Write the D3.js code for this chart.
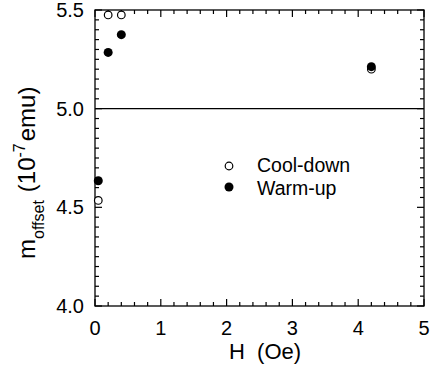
<!DOCTYPE html>
<html><head><meta charset="utf-8">
<script src="https://cdn.jsdelivr.net/npm/d3@7"></script>
<style>body{margin:0;background:#fff}text{font-family:"Liberation Sans",Arial,sans-serif;fill:#000}</style>
</head><body><svg id="c" width="430" height="370"></svg>
<script>
const coolH = [0.05, 0.2, 0.4, 4.2];
const coolM = [4.535, 5.475, 5.475, 5.20];
const warmH = [0.05, 0.2, 0.4, 4.2];
const warmM = [4.635, 5.285, 5.375, 5.213];
const xTicks = [0, 1, 2, 3, 4, 5];
const yTicks = [4.0, 4.5, 5.0, 5.5];
const refLine = 5.0;

const svg = d3.select("#c");
const L = 95, R = 424, T = 10, B = 306;
const x = d3.scaleLinear().domain([0, 5]).range([L, R]);
const y = d3.scaleLinear().domain([4.0, 5.5]).range([B, T]);

const g = svg.append("g");
g.append("rect").attr("x", L).attr("y", T).attr("width", R - L).attr("height", B - T)
  .attr("fill", "none").attr("stroke", "#000").attr("stroke-width", 1.3);

const xMinor = d3.range(0, 5.001, 0.2);
const yMinor = d3.range(4.0, 5.5001, 0.05);
xMinor.forEach(v => {
  const major = Math.abs(v - Math.round(v)) < 1e-6;
  const len = major ? 7 : 4;
  g.append("line").attr("x1", x(v)).attr("x2", x(v)).attr("y1", B).attr("y2", B - len).attr("stroke", "#000").attr("stroke-width", 1.2);
  g.append("line").attr("x1", x(v)).attr("x2", x(v)).attr("y1", T).attr("y2", T + len).attr("stroke", "#000").attr("stroke-width", 1.2);
});
yMinor.forEach(v => {
  const major = Math.abs(v * 2 - Math.round(v * 2)) < 1e-6;
  const len = major ? 7 : 4;
  g.append("line").attr("y1", y(v)).attr("y2", y(v)).attr("x1", L).attr("x2", L + len).attr("stroke", "#000").attr("stroke-width", 1.2);
  g.append("line").attr("y1", y(v)).attr("y2", y(v)).attr("x1", R).attr("x2", R - len).attr("stroke", "#000").attr("stroke-width", 1.2);
});

g.selectAll(".xl").data(xTicks).enter().append("text")
  .attr("x", d => x(d)).attr("y", 335).attr("text-anchor", "middle")
  .attr("font-size", 20).text(d => d);
g.selectAll(".yl").data(yTicks).enter().append("text")
  .attr("x", L - 11).attr("y", d => y(d) + 7).attr("text-anchor", "end")
  .attr("font-size", 20).text(d => d.toFixed(1));

g.append("line").attr("x1", L).attr("x2", R).attr("y1", y(refLine)).attr("y2", y(refLine))
  .attr("stroke", "#000").attr("stroke-width", 1.2);

g.selectAll(".cool").data(coolH.map((h, i) => [h, coolM[i]])).enter().append("circle")
  .attr("cx", d => x(d[0])).attr("cy", d => y(d[1])).attr("r", 3.8)
  .attr("fill", "#fff").attr("stroke", "#000").attr("stroke-width", 1.2);
g.selectAll(".warm").data(warmH.map((h, i) => [h, warmM[i]])).enter().append("circle")
  .attr("cx", d => x(d[0])).attr("cy", d => y(d[1])).attr("r", 4.5)
  .attr("fill", "#000");

g.append("circle").attr("cx", 229).attr("cy", 166).attr("r", 3.8).attr("fill", "#fff").attr("stroke", "#000").attr("stroke-width", 1.2);
g.append("circle").attr("cx", 229).attr("cy", 187).attr("r", 4.5).attr("fill", "#000");
g.append("text").attr("x", 257).attr("y", 172).attr("font-size", 19.5).text("Cool-down");
g.append("text").attr("x", 257).attr("y", 195).attr("font-size", 19.5).text("Warm-up");

g.append("text").attr("x", 265).attr("y", 359).attr("text-anchor", "middle").attr("font-size", 22)
  .attr("xml:space", "preserve").text("H  (Oe)");
const yt = g.append("text").attr("transform", "translate(35,259) rotate(-90)").attr("text-anchor", "start").attr("font-size", 24);
yt.append("tspan").text("m");
yt.append("tspan").attr("font-size", 16).attr("dy", 9).text("offset");
yt.append("tspan").attr("dy", -9).attr("dx", 8).text("(10");
yt.append("tspan").attr("font-size", 16).attr("dy", -10).text("-7");
yt.append("tspan").attr("dy", 10).attr("dx", 2).text("emu)");
</script></body></html>
